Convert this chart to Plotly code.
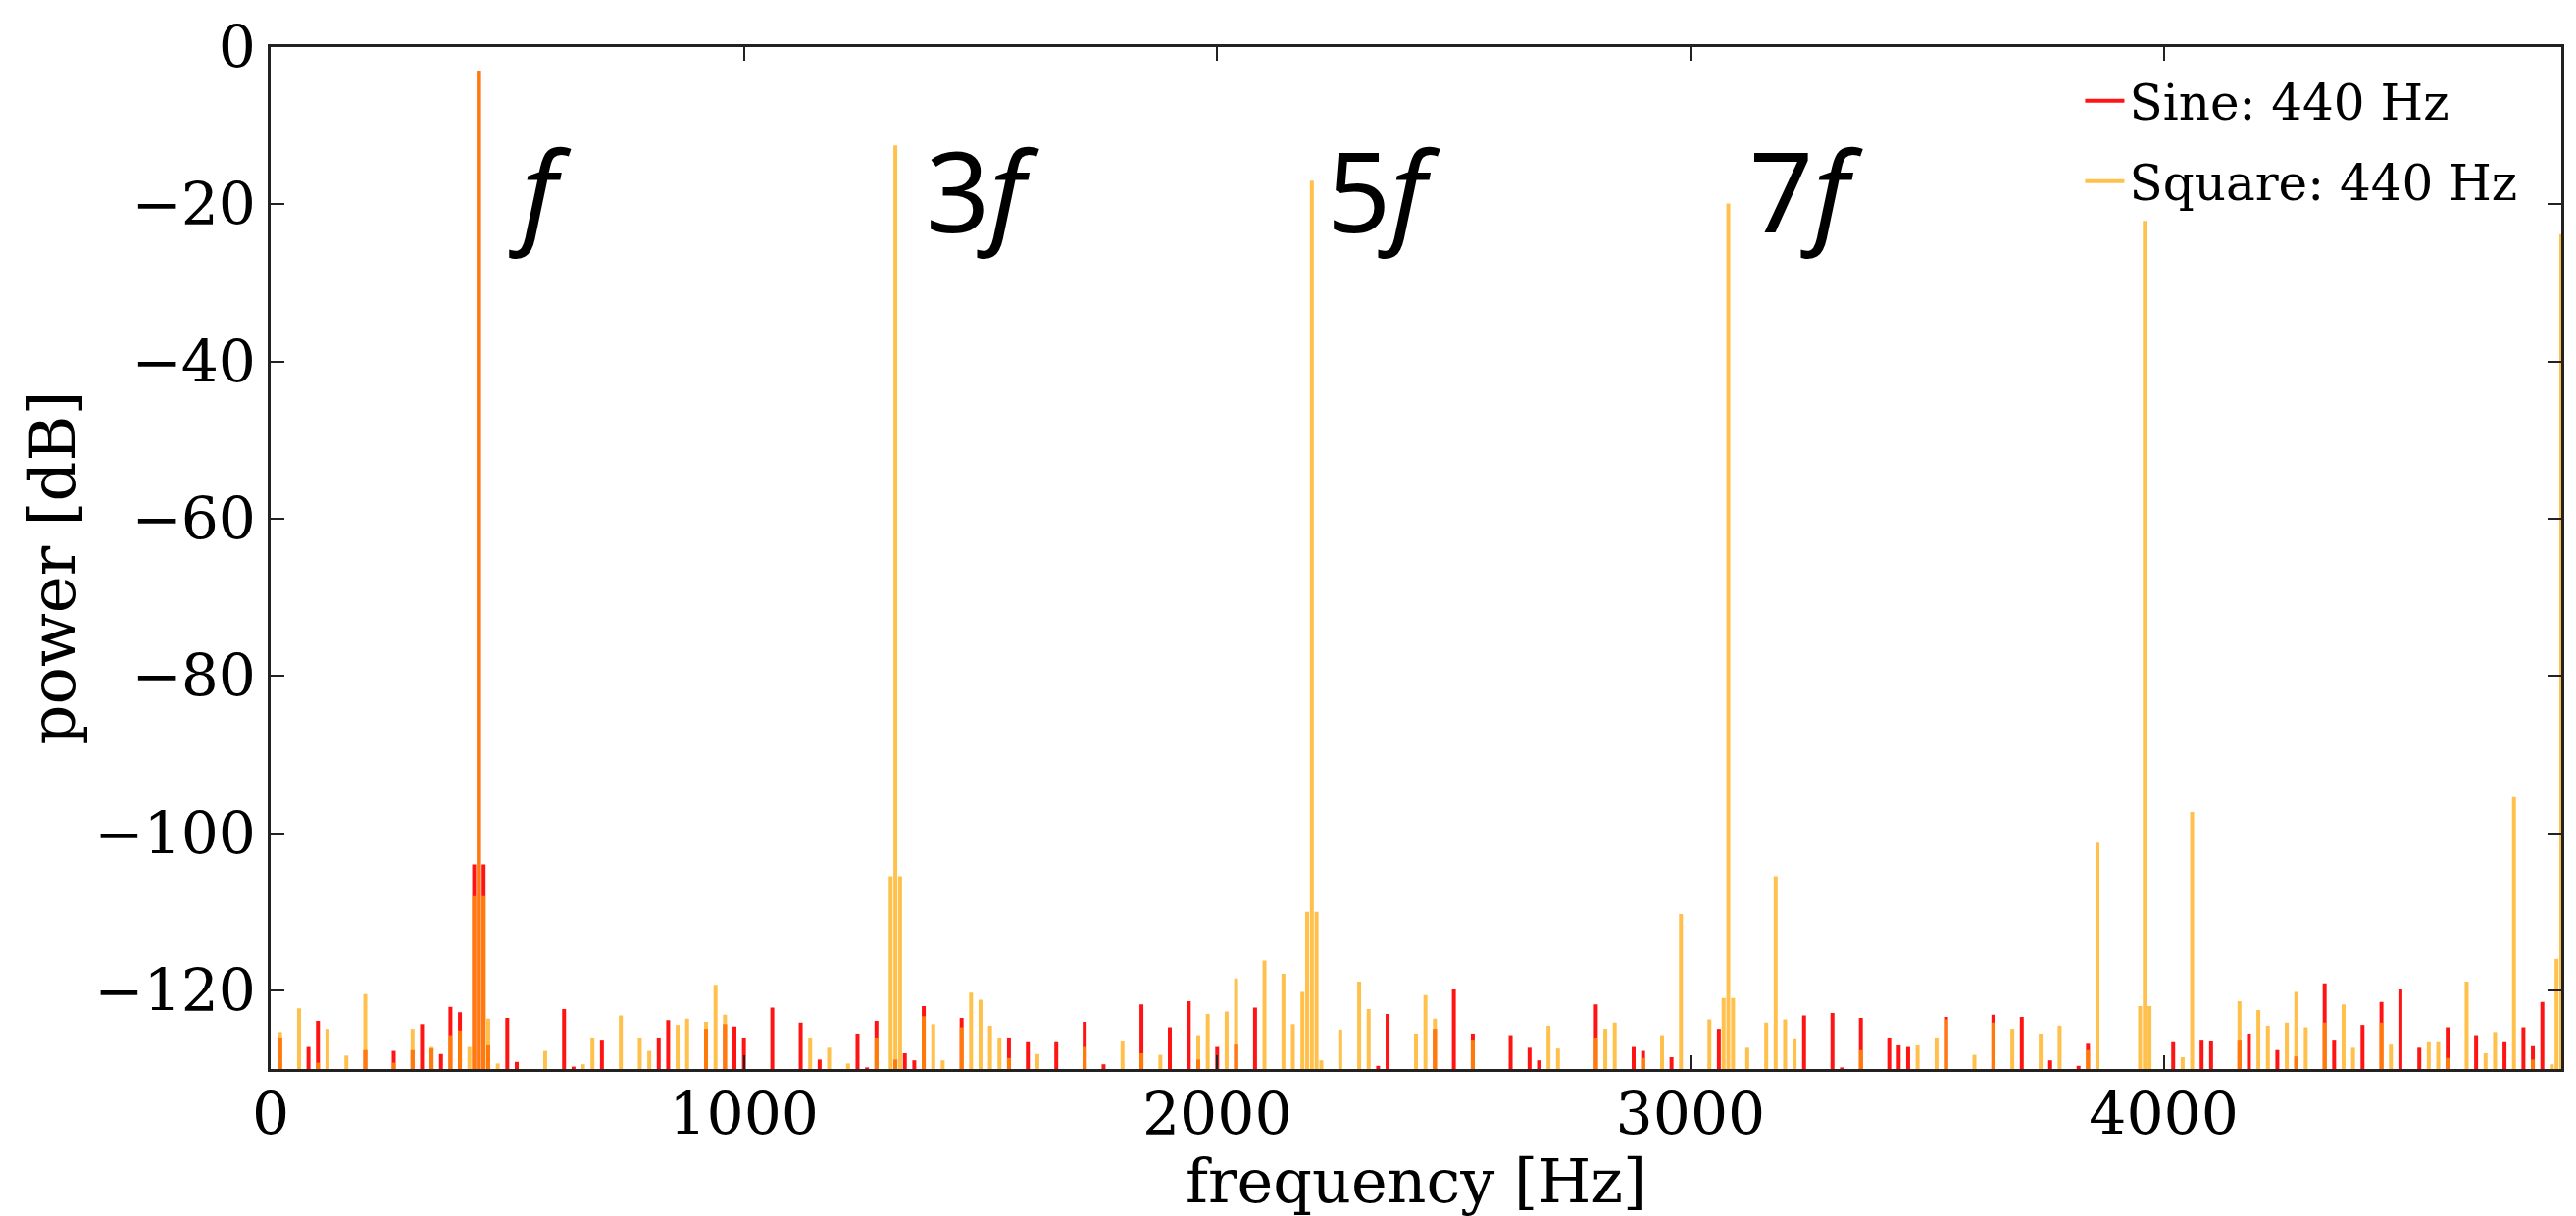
import plotly.graph_objects as go

# ---------------- data ----------------
sine_freq = [20, 80, 100, 200, 260, 300, 320, 340, 360, 380, 400, 430, 440, 450, 460,
             500, 520, 620, 640, 700, 820, 840, 920, 960, 980, 1000, 1060, 1120, 1160,
             1240, 1260, 1280, 1320, 1340, 1360, 1380, 1460, 1560, 1600, 1660, 1720,
             1760, 1840, 1900, 1940, 1960, 2000, 2040, 2080, 2340, 2360, 2460, 2500,
             2540, 2620, 2660, 2680, 2800, 2880, 2900, 2960, 3060, 3240, 3300, 3320,
             3360, 3420, 3440, 3460, 3540, 3640, 3700, 3760, 3820, 3840, 4020, 4080,
             4100, 4160, 4180, 4240, 4280, 4340, 4360, 4420, 4460, 4500, 4540, 4600,
             4660, 4720, 4760, 4780, 4800]
sine_db = [-126.0, -127.2, -123.9, -127.6, -127.7, -127.6, -124.3, -127.4, -128.1, -122.1,
           -122.8, -104.0, -3.0, -104.0, -127.0, -123.5, -129.1, -122.4, -129.7, -126.4,
           -126.0, -123.8, -124.9, -124.3, -124.6, -126.0, -122.2, -124.1, -128.8,
           -125.5, -129.8, -123.9, -128.8, -128.0, -128.9, -122.0, -123.5, -126.0,
           -126.6, -126.6, -124.0, -129.4, -121.8, -124.7, -121.4, -128.8, -127.2,
           -126.9, -122.2, -129.6, -123.0, -124.9, -119.9, -125.5, -125.7, -127.3,
           -128.9, -121.8, -127.2, -127.7, -128.5, -124.9, -123.2, -122.9, -129.8,
           -123.5, -126.0, -127.0, -127.2, -123.4, -123.1, -123.4, -128.9, -129.6,
           -126.8, -126.6, -126.4, -126.5, -126.4, -125.5, -127.6, -128.4, -119.1,
           -126.4, -124.4, -121.5, -119.9, -127.3, -124.7, -125.7, -126.6, -124.7,
           -127.1, -121.5]

square_freq = [20, 60, 100, 120, 160, 200, 260, 300, 340, 380, 400, 420, 430, 440, 450,
               460, 480, 580, 660, 680, 740, 780, 800, 860, 880, 920, 940, 960, 1140,
               1180, 1220, 1280, 1310, 1320, 1330, 1380, 1400, 1420, 1460, 1480, 1500,
               1520, 1540, 1560, 1620, 1720, 1800, 1840, 1880, 1960, 1980, 2020, 2040,
               2100, 2140, 2160, 2180, 2190, 2200, 2210, 2220, 2260, 2300, 2320, 2420,
               2440, 2460, 2540, 2700, 2720, 2800, 2820, 2840, 2900, 2940, 2980, 3040,
               3070, 3080, 3090, 3120, 3160, 3180, 3200, 3220, 3360, 3480, 3520, 3540,
               3600, 3640, 3680, 3740, 3780, 3840, 3860, 3950, 3960, 3970, 4040, 4060,
               4160, 4200, 4220, 4260, 4280, 4300, 4340, 4380, 4400, 4460, 4480, 4560,
               4580, 4600, 4640, 4680, 4700, 4740, 4780, 4820, 4830, 4840]
square_db = [-125.3, -122.3, -129.2, -124.9, -128.3, -120.5, -129.2, -124.9, -127.2,
             -125.7, -125.1, -127.2, -108.0, -3.0, -108.0, -123.6, -129.3, -127.7,
             -129.4, -126.0, -123.2, -126.0, -127.7, -124.4, -123.6, -124.0, -119.3,
             -123.1, -126.0, -127.3, -129.3, -126.0, -105.5, -12.5, -105.5, -123.3,
             -124.3, -128.9, -124.7, -120.3, -121.2, -124.5, -126.0, -128.6, -128.1,
             -127.2, -126.5, -128.0, -128.2, -125.7, -123.0, -122.7, -118.5, -116.2,
             -117.9, -124.3, -120.2, -110.0, -17.0, -110.0, -128.9, -125.0, -118.9,
             -122.4, -125.5, -120.6, -123.6, -126.4, -124.5, -127.4, -126.0, -124.9,
             -124.1, -128.6, -125.7, -110.3, -123.7, -121.0, -19.9, -121.0, -127.3,
             -124.1, -105.5, -123.7, -126.1, -127.6, -127.0, -126.0, -123.7, -128.2,
             -124.1, -124.9, -125.5, -124.5, -127.6, -101.2, -122.0, -22.1, -122.0,
             -128.5, -97.3, -121.4, -122.5, -124.5, -124.1, -120.2, -124.7, -124.1,
             -121.8, -127.3, -124.1, -126.9, -126.6, -126.6, -128.6, -118.9, -128.0,
             -125.3, -95.4, -128.8, -129.4, -116.0, -23.8]

x_ticks = [0, 1000, 2000, 3000, 4000]
y_ticks = [0, -20, -40, -60, -80, -100, -120]
x_range = [0, 4840]
y_range = [-130, 0]

harmonic_text = ["<i>f</i>", "3<i>f</i>", "5<i>f</i>", "7<i>f</i>"]
harmonic_x = [500, 1380, 2228, 3120]
harmonic_y = -18

series_names = ["Sine: 440 Hz", "Square: 440 Hz"]

STEM_FLOOR = -140  # below the axis floor; clipped by the plot area


def stems(freqs, dbs):
    xs, ys = [], []
    for f, d in zip(freqs, dbs):
        xs += [f, f, None]
        ys += [STEM_FLOOR, d, None]
    return xs, ys


SERIF = "DejaVu Serif"

fig = go.Figure()
sx, sy = stems(sine_freq, sine_db)
fig.add_trace(go.Scatter(x=sx, y=sy, mode="lines", name=series_names[0],
                         legendgroup="a",
                         line=dict(color="rgb(255,20,20)", width=4)))
qx, qy = stems(square_freq, square_db)
fig.add_trace(go.Scatter(x=qx, y=qy, mode="lines", name=series_names[1],
                         legendgroup="b",
                         line=dict(color="rgba(255,165,0,0.7)", width=4)))

axis_common = dict(
    ticks="inside", ticklen=14, tickwidth=2, tickcolor="#222",
    showline=True, linecolor="#222", linewidth=3, mirror="ticks",
    showgrid=False, zeroline=False,
    tickfont=dict(family=SERIF, size=60, color="black"),
)

fig.update_layout(
    width=2627, height=1240,
    margin=dict(l=276, r=12, t=48, b=150),
    paper_bgcolor="white", plot_bgcolor="white",
    xaxis=dict(range=x_range, tickvals=x_ticks, ticklabelstandoff=-8, **axis_common),
    yaxis=dict(range=y_range, tickvals=y_ticks, **axis_common),
    showlegend=True,
    legend=dict(x=0.79, y=0.985, xanchor="left", yanchor="top",
                bgcolor="rgba(0,0,0,0)", borderwidth=0,
                font=dict(family=SERIF, size=50, color="black"),
                tracegroupgap=14, itemwidth=40),
)

annotations = [
    dict(text="frequency [Hz]", xref="paper", yref="paper", x=0.5, y=-0.11,
         xanchor="center", yanchor="middle", showarrow=False,
         font=dict(family=SERIF, size=62, color="black")),
    dict(text="power [dB]", xref="paper", yref="paper", x=-0.095, y=0.49,
         xanchor="center", yanchor="middle", textangle=-90, showarrow=False,
         font=dict(family=SERIF, size=64, color="black")),
]
for t, hx in zip(harmonic_text, harmonic_x):
    annotations.append(dict(text=t, x=hx, y=harmonic_y, xref="x", yref="y",
                            xanchor="left", yanchor="middle", showarrow=False,
                            font=dict(family="Noto Sans", size=114, color="black")))
fig.update_layout(annotations=annotations)

fig.write_html("out.html")
